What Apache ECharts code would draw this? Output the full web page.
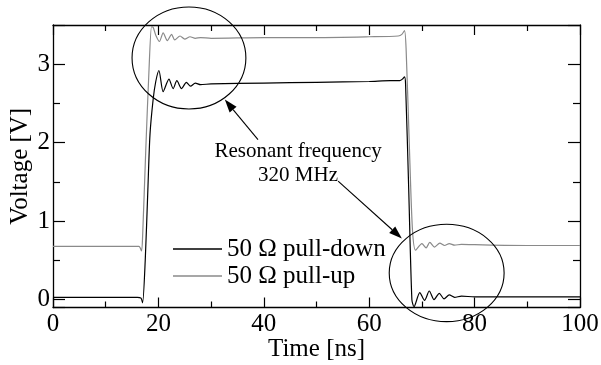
<!DOCTYPE html>
<html><head><meta charset="utf-8">
<script src="https://cdn.jsdelivr.net/npm/echarts@6/dist/echarts.min.js"></script>
<style>html,body{margin:0;padding:0;background:#fff}#c{width:601px;height:365px}</style>
</head><body><div id="c"></div>
<script>
// ---- data ----
const xTickLabels = [0, 20, 40, 60, 80, 100];
const yTickLabels = [0, 1, 2, 3];
const seriesNames = ['50 \u03A9 pull-down', '50 \u03A9 pull-up'];

const pullDownTime = [0, 8, 16.0, 16.7, 17.0, 17.5, 18.0, 18.4, 19.0, 19.5, 20.1, 20.9, 22.0, 22.8, 23.5, 24.4, 25.3, 26.1, 27.0, 28.0, 30, 40, 50, 60, 64, 65.8, 66.3, 66.7, 66.9, 67.5, 68.1, 68.5, 69.6, 70.5, 71.4, 72.3, 73.3, 74.2, 75.2, 76.2, 77.5, 80, 90, 100];
const pullDownVolt = [0.03, 0.03, 0.03, 0.02, -0.04, 0.5, 1.4, 2.1, 2.55, 2.78, 2.92, 2.65, 2.81, 2.69, 2.79, 2.69, 2.77, 2.72, 2.76, 2.74, 2.75, 2.76, 2.77, 2.78, 2.79, 2.79, 2.81, 2.84, 2.75, 1.4, 0.0, -0.09, 0.09, -0.01, 0.11, 0.0, 0.08, 0.01, 0.06, 0.03, 0.045, 0.035, 0.035, 0.035];

const pullUpTime = [0, 8, 16.3, 16.8, 17.0, 17.6, 18.2, 18.7, 19.0, 19.5, 20.2, 20.9, 21.7, 22.5, 23.1, 24.1, 25.0, 26.0, 27.0, 28.0, 30, 40, 50, 60, 65.5, 66.2, 66.7, 67.0, 67.6, 68.2, 68.8, 70.0, 70.8, 71.5, 72.4, 73.4, 74.3, 75.2, 76.2, 77.5, 80, 90, 100];
const pullUpVolt = [0.68, 0.68, 0.68, 0.62, 0.8, 1.9, 2.9, 3.48, 3.47, 3.37, 3.29, 3.40, 3.30, 3.38, 3.31, 3.36, 3.32, 3.35, 3.33, 3.34, 3.33, 3.34, 3.34, 3.35, 3.36, 3.38, 3.43, 3.2, 2.0, 0.9, 0.63, 0.715, 0.66, 0.73, 0.67, 0.72, 0.69, 0.715, 0.695, 0.705, 0.70, 0.69, 0.69];

// annotation geometry (data units)
const ellipses = [
  { t: 25.8, v: 3.08, rt: 10.8, rv: 0.65 },
  { t: 74.7, v: 0.34, rt: 10.9, rv: 0.62 }
];
const arrows = [
  { from: [38.9, 2.04], to: [32.6, 2.55] },
  { from: [54.1, 1.51], to: [66.2, 0.78] }
];
const noteLines = ['Resonant frequency', '320 MHz'];
const notePos = [[46.5, 1.89], [46.5, 1.586]];

// ---- chart ----
const FONT = "'Liberation Serif','Times New Roman',serif";
const BLACK = '#000';
const GRAY = '#8a8a8a';

function pairs(t, v) { return t.map((x, i) => [x, v[i]]); }

const axisLineStyle = { show: true, onZero: false, lineStyle: { color: BLACK, width: 1.3 } };
function xAx(pos, labels) {
  return {
    type: 'value', position: pos, min: 0, max: 100, interval: 20,
    axisLine: axisLineStyle,
    axisTick: { show: true, inside: true, length: 10, lineStyle: { color: BLACK, width: 1.2 } },
    minorTick: { show: true, splitNumber: 2, length: 6, lineStyle: { color: BLACK, width: 1.2 } },
    axisLabel: labels ? { show: true, fontSize: 25, fontFamily: FONT, color: BLACK, margin: 4,
      formatter: v => xTickLabels.includes(v) ? String(v) : '' } : { show: false },
    splitLine: { show: false },
    name: labels ? 'Time [ns]' : '', nameLocation: 'middle', nameGap: 29, nameMoveOverlap: false,
    nameTextStyle: { fontSize: 25, fontFamily: FONT, color: BLACK }
  };
}
function yAx(pos, labels) {
  return {
    type: 'value', position: pos, min: -0.1, max: 3.5, splitNumber: 4,
    axisLine: axisLineStyle,
    axisTick: { show: true, inside: true, length: 12, lineStyle: { color: BLACK, width: 1.2 } },
    minorTick: { show: true, splitNumber: 2, length: 7, lineStyle: { color: BLACK, width: 1.2 } },
    axisLabel: labels ? { show: true, fontSize: 25, fontFamily: FONT, color: BLACK, margin: 3,
      showMinLabel: false, showMaxLabel: false,
      formatter: v => yTickLabels.includes(Math.round(v * 1000) / 1000) ? String(Math.round(v)) : '' } : { show: false },
    splitLine: { show: false },
    name: labels ? 'Voltage [V]' : '', nameLocation: 'middle', nameGap: 20, nameMoveOverlap: false,
    nameTextStyle: { fontSize: 25, fontFamily: FONT, color: BLACK }
  };
}

const chart = echarts.init(document.getElementById('c'), null, { renderer: 'canvas' });
chart.setOption({
  animation: false,
  backgroundColor: '#fff',
  grid: { left: 53, right: 21, top: 25, bottom: 57.5, containLabel: false, outerBoundsMode: 'none' },
  xAxis: [xAx('bottom', true), xAx('top', false)],
  yAxis: [yAx('left', true), yAx('right', false)],
  legend: {
    orient: 'vertical', left: 173, top: 235.5,
    itemWidth: 49, itemHeight: 1.4, itemGap: 0, icon: 'rect',
    data: seriesNames,
    textStyle: { fontSize: 25, fontFamily: FONT, color: BLACK, lineHeight: 27 },
    padding: 0
  },
  series: [
    { name: seriesNames[1], type: 'line', xAxisIndex: 0, yAxisIndex: 0, symbol: 'none', showSymbol: false, smooth: 0.25,
      lineStyle: { color: GRAY, width: 1.2 }, itemStyle: { color: GRAY }, data: pairs(pullUpTime, pullUpVolt), z: 2 },
    { name: seriesNames[0], type: 'line', xAxisIndex: 0, yAxisIndex: 0, symbol: 'none', showSymbol: false, smooth: 0.25,
      lineStyle: { color: BLACK, width: 1.2 }, itemStyle: { color: BLACK }, data: pairs(pullDownTime, pullDownVolt), z: 3 }
  ]
});

// annotations placed through the axes' own scales
function px(p) { return chart.convertToPixel({ gridIndex: 0 }, p); }
const g = [];
ellipses.forEach(e => {
  const c = px([e.t, e.v]);
  const r = px([e.t + e.rt, e.v + e.rv]);
  g.push({ type: 'ellipse', shape: { cx: c[0], cy: c[1], rx: Math.abs(r[0] - c[0]), ry: Math.abs(r[1] - c[1]) },
    style: { fill: 'none', stroke: BLACK, lineWidth: 1.1 }, z: 10 });
});
arrows.forEach(a => {
  const p0 = px(a.from), p1 = px(a.to);
  const dx = p1[0] - p0[0], dy = p1[1] - p0[1];
  const L = Math.hypot(dx, dy), ux = dx / L, uy = dy / L;
  const hl = 13, hw = 4.5;
  const bx = p1[0] - ux * hl, by = p1[1] - uy * hl;
  g.push({ type: 'line', shape: { x1: p0[0], y1: p0[1], x2: bx, y2: by }, style: { stroke: BLACK, lineWidth: 1.1 }, z: 10 });
  g.push({ type: 'polygon', shape: { points: [[p1[0], p1[1]], [bx - uy * hw, by + ux * hw], [bx + uy * hw, by - ux * hw]] },
    style: { fill: BLACK }, z: 10 });
});
noteLines.forEach((s, i) => {
  const c = px(notePos[i]);
  g.push({ type: 'text', x: c[0], y: c[1], style: { text: s, fontSize: 21, fontFamily: FONT, fill: BLACK, align: 'center', verticalAlign: 'middle' }, z: 10 });
});
chart.setOption({ graphic: g });
</script>
</body></html>
